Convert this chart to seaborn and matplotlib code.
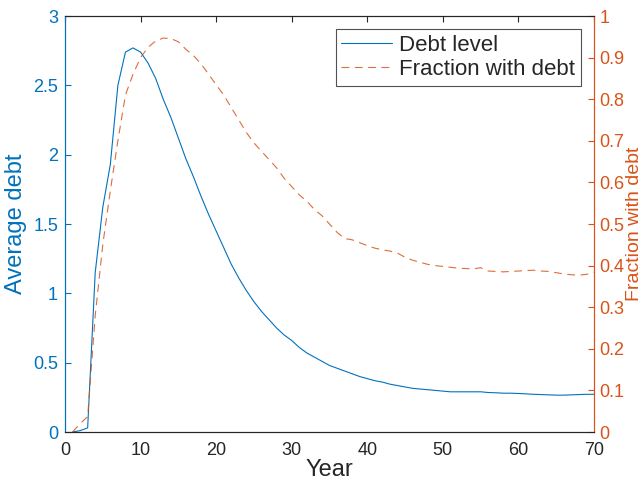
import numpy as np, matplotlib
matplotlib.use("Agg")
import matplotlib.pyplot as plt; import seaborn as sns
import pandas as pd

# ── values ──
years = list(range(1, 71))
debt_level = [0.0, 0.01, 0.03, 1.15, 1.62, 1.93, 2.5, 2.74, 2.77, 2.74,
              2.66, 2.55, 2.40, 2.27, 2.12, 1.97, 1.84, 1.70, 1.57, 1.45,
              1.33, 1.21, 1.11, 1.02, 0.94, 0.87, 0.81, 0.75, 0.70, 0.66,
              0.61, 0.57, 0.54, 0.51, 0.48, 0.46, 0.44, 0.42, 0.40, 0.385,
              0.37, 0.36, 0.345, 0.335, 0.325, 0.315, 0.31, 0.305, 0.30, 0.295,
              0.29, 0.29, 0.29, 0.29, 0.29, 0.285, 0.283, 0.28, 0.28, 0.278,
              0.275, 0.272, 0.27, 0.268, 0.266, 0.266, 0.268, 0.27, 0.272, 0.272]
frac_debt = [0.0, 0.02, 0.037, 0.28, 0.45, 0.58, 0.70, 0.81, 0.86, 0.90,
             0.925, 0.94, 0.947, 0.946, 0.938, 0.92, 0.905, 0.885, 0.86, 0.835,
             0.81, 0.78, 0.75, 0.72, 0.695, 0.675, 0.655, 0.635, 0.61, 0.59,
             0.57, 0.555, 0.535, 0.52, 0.50, 0.48, 0.465, 0.462, 0.455, 0.448,
             0.442, 0.438, 0.435, 0.43, 0.42, 0.413, 0.408, 0.403, 0.40, 0.398,
             0.396, 0.394, 0.393, 0.392, 0.395, 0.387, 0.386, 0.385, 0.386, 0.387,
             0.388, 0.389, 0.387, 0.386, 0.383, 0.380, 0.378, 0.377, 0.379, 0.384]
x_ticks = list(range(0, 71, 10))
left_ticks = [0, 0.5, 1, 1.5, 2, 2.5, 3]
left_labels = ["0", "0.5", "1", "1.5", "2", "2.5", "3"]
right_ticks = [i / 10 for i in range(11)]
right_labels = ["0", "0.1", "0.2", "0.3", "0.4", "0.5", "0.6", "0.7", "0.8", "0.9", "1"]

df = pd.DataFrame({"Year": years, "debt": debt_level, "frac": frac_debt})

blue = "#0072BD"; orange = "#D95319"; dark = "#262626"
sns.set_style("white")
plt.rcParams['font.family'] = ['Liberation Sans', 'DejaVu Sans']

fig = plt.figure(figsize=(6.44, 4.87), dpi=100)
ax = fig.add_axes([0.1009, 0.1129, 0.8215, 0.8542])
ax2 = ax.twinx()

sns.lineplot(data=df, x="Year", y="debt", ax=ax, color=blue, lw=0.8, label="Debt level", legend=False)
sns.lineplot(data=df, x="Year", y="frac", ax=ax2, color=orange, lw=0.8, label="Fraction with debt",
             legend=False, dashes=False, linestyle=(0, (7, 5)), alpha=0.85)

ax.set_xlim(0, 70); ax.set_ylim(0, 3); ax2.set_ylim(0, 1)
ax.set_xticks(x_ticks); ax.set_xticklabels([str(t) for t in x_ticks])
ax.set_yticks(left_ticks); ax.set_yticklabels(left_labels)
ax2.set_yticks(right_ticks); ax2.set_yticklabels(right_labels)

ax.set_xlabel("Year", fontsize=17, color=dark, labelpad=0)
ax.set_ylabel("Average debt", fontsize=17, color=blue, labelpad=4)
ax2.set_ylabel("Fraction with debt", fontsize=14, color=orange, labelpad=1)

ax.tick_params(axis="x", direction="in", length=4, labelsize=13, colors=dark, top=True, pad=7)
ax.tick_params(axis="y", direction="in", length=4, labelsize=13, colors=blue, pad=5)
ax2.tick_params(axis="y", direction="in", length=4, labelsize=13, colors=orange, pad=4)

for a in (ax, ax2):
    for s in a.spines.values():
        s.set_linewidth(0.8)
    a.spines["bottom"].set_color(dark); a.spines["top"].set_color(dark)
    a.spines["left"].set_color(blue); a.spines["right"].set_color(orange)

h1, l1 = ax.get_legend_handles_labels()
h2, l2 = ax2.get_legend_handles_labels()
leg = ax2.legend(h1 + h2, l1 + l2, loc="upper right", fontsize=16, frameon=True, fancybox=False,
                 edgecolor=dark, handlelength=2.3, handletextpad=0.3, borderaxespad=0.6,
                 borderpad=0.25, labelspacing=0.15)
leg.get_frame().set_linewidth(0.8)

plt.savefig("out.png", dpi=100)
plt.close()
